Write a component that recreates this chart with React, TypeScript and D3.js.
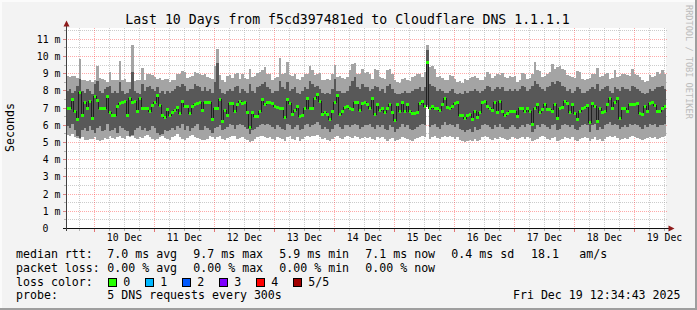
import React from "react";
import * as d3 from "d3";

// ---------- data (hourly steps, milliseconds) ----------
const START = Date.UTC(2025, 11, 9, 12, 34, 43);
const HOUR = 3600e3;

const medianMs: number[] = [
  6.96, 6.96, 7.50, 6.81, 6.34, 7.89, 6.57, 7.33, 6.96, 7.39,
  6.40, 7.68, 7.45, 6.96, 6.96, 6.96, 7.70, 6.77, 6.59, 6.59,
  7.10, 7.29, 7.35, 7.39, 6.59, 7.56, 7.35, 7.39, 6.81, 7.54,
  6.96, 6.96, 6.96, 6.81, 7.14, 7.33, 7.74, 7.16, 6.59, 6.48,
  6.92, 6.57, 6.77, 6.88, 7.06, 6.71, 7.39, 7.10, 7.10, 6.71,
  7.10, 7.19, 7.29, 7.35, 6.86, 7.31, 7.31, 7.31, 6.34, 6.96,
  6.96, 7.52, 6.24, 6.86, 6.57, 7.25, 7.25, 6.82, 7.19, 7.41,
  7.25, 7.35, 6.77, 5.89, 6.77, 6.51, 6.51, 6.80, 7.52, 7.19,
  7.35, 7.35, 7.25, 7.10, 7.02, 6.96, 6.96, 6.43, 7.50, 7.29,
  6.63, 6.86, 7.10, 6.51, 6.57, 6.96, 7.58, 6.96, 6.96, 7.54,
  7.77, 7.39, 6.63, 6.77, 6.63, 6.34, 6.82, 7.35, 7.74, 6.63,
  6.80, 7.02, 7.10, 7.00, 6.92, 7.35, 7.35, 6.86, 7.29, 7.33,
  7.19, 6.96, 7.54, 6.63, 7.19, 6.86, 6.96, 6.77, 6.96, 7.19,
  6.77, 6.28, 7.19, 6.82, 7.35, 6.82, 7.19, 6.80, 6.71, 6.67,
  6.77, 7.25, 7.39, 7.10, 9.64, 6.96, 7.10, 6.96, 6.96, 6.86,
  7.19, 7.54, 7.06, 6.96, 7.10, 7.25, 7.35, 6.57, 6.57, 6.42,
  6.57, 6.63, 6.34, 6.82, 6.43, 6.77, 7.35, 7.39, 7.10, 6.96,
  6.86, 7.31, 6.77, 7.39, 6.82, 6.57, 6.67, 6.82, 6.80, 6.80,
  6.51, 6.96, 6.96, 6.80, 6.96, 6.80, 6.05, 6.96, 7.19, 6.77,
  6.92, 7.19, 6.92, 6.92, 6.80, 7.19, 6.42, 6.96, 7.06, 7.39,
  7.25, 6.77, 7.19, 6.71, 6.34, 6.80, 6.96, 7.06, 7.16, 6.18,
  7.25, 7.10, 6.24, 6.96, 6.77, 6.80, 7.19, 7.54, 6.96, 7.35,
  7.54, 6.42, 6.96, 6.96, 6.80, 7.19, 7.19, 7.19, 7.25, 6.71,
  6.61, 7.12, 6.80, 7.25, 7.35, 7.16, 6.80, 6.80, 6.96, 7.10,
];

const maxMs: number[] = [
  8.84, 8.80, 8.88, 8.84, 8.77, 9.87, 8.65, 8.61, 8.57, 8.61,
  8.53, 8.65, 9.43, 8.77, 8.69, 8.61, 8.53, 9.10, 8.65, 8.61,
  8.65, 9.74, 8.65, 8.69, 8.51, 8.51, 10.65, 8.57, 8.61, 8.65,
  9.35, 8.65, 9.00, 9.00, 8.92, 8.80, 8.71, 8.77, 8.65, 8.71,
  8.71, 8.51, 8.65, 8.61, 9.00, 8.96, 9.16, 9.08, 8.77, 8.80,
  8.84, 9.10, 9.04, 9.00, 8.92, 9.00, 8.80, 8.77, 8.71, 9.43,
  10.45, 8.90, 8.61, 8.51, 8.84, 8.90, 8.77, 9.00, 9.04, 8.71,
  9.00, 8.77, 8.71, 9.29, 8.80, 8.84, 9.04, 9.10, 9.19, 9.39,
  9.00, 8.96, 8.65, 8.77, 8.80, 9.89, 9.00, 9.04, 9.68, 8.90,
  8.84, 9.00, 8.71, 8.65, 8.80, 9.00, 8.96, 9.43, 9.19, 8.90,
  9.00, 9.04, 8.65, 8.61, 8.71, 8.65, 9.00, 9.50, 8.80, 8.84,
  8.77, 8.71, 8.80, 9.19, 9.55, 9.60, 9.00, 8.96, 9.29, 9.04,
  9.10, 9.00, 8.71, 9.29, 9.23, 8.80, 8.77, 8.71, 9.19, 9.29,
  9.00, 8.61, 8.51, 8.45, 8.71, 8.77, 8.61, 8.57, 8.80, 8.84,
  9.00, 8.96, 8.80, 9.10, 10.65, 9.39, 9.43, 9.29, 8.80, 8.84,
  8.77, 8.61, 8.65, 8.90, 8.84, 8.71, 8.51, 8.57, 8.45, 8.71,
  8.65, 8.77, 8.80, 8.84, 8.77, 8.61, 8.65, 8.80, 9.10, 9.00,
  8.77, 8.84, 9.00, 8.92, 9.04, 8.80, 8.77, 8.84, 8.80, 8.88,
  8.51, 8.61, 9.04, 9.00, 8.71, 8.77, 9.00, 9.68, 9.19, 9.16,
  8.80, 8.84, 9.00, 9.08, 9.58, 9.29, 9.39, 9.43, 9.29, 9.23,
  8.90, 8.84, 8.80, 8.77, 9.16, 9.10, 8.71, 8.65, 8.71, 8.77,
  9.00, 8.96, 9.35, 8.80, 8.84, 9.00, 9.04, 8.71, 8.77, 9.19,
  8.80, 8.84, 9.00, 8.96, 8.90, 8.84, 9.29, 9.00, 8.90, 8.80,
  8.65, 8.51, 8.57, 8.90, 8.80, 8.84, 9.10, 9.00, 9.19, 9.00,
];

const upperMs: number[] = [
  8.0, 8.1, 7.9, 8.0, 8.3, 8.7, 8.0, 7.9, 8.1, 8.0,
  7.8, 8.4, 8.6, 8.0, 7.9, 8.1, 8.2, 8.3, 7.9, 8.0,
  7.9, 8.5, 8.0, 7.8, 7.9, 8.1, 9.1, 8.0, 7.9, 7.8,
  8.4, 8.0, 8.2, 8.3, 8.1, 8.0, 8.2, 7.9, 8.0, 7.8,
  8.0, 7.9, 8.0, 8.1, 8.3, 8.2, 8.4, 8.3, 8.0, 8.1,
  8.1, 8.4, 8.3, 8.2, 8.0, 8.2, 8.0, 8.1, 7.9, 8.5,
  9.6, 8.1, 7.9, 7.8, 8.0, 8.1, 8.0, 8.2, 8.3, 7.9,
  8.1, 8.0, 7.9, 8.4, 8.0, 7.9, 8.2, 8.3, 8.4, 8.5,
  8.2, 8.1, 7.9, 8.0, 8.0, 8.6, 8.2, 8.1, 8.5, 8.0,
  8.1, 8.2, 7.9, 7.8, 8.0, 8.2, 8.1, 8.6, 8.4, 8.2,
  8.3, 8.1, 7.9, 7.8, 7.9, 7.8, 8.1, 8.7, 8.0, 8.0,
  7.9, 7.9, 8.0, 8.3, 8.6, 8.8, 8.2, 8.1, 8.4, 8.2,
  8.2, 8.0, 8.1, 8.3, 8.2, 8.0, 8.1, 7.9, 8.3, 8.4,
  8.1, 7.9, 7.8, 7.8, 7.9, 8.0, 7.9, 7.9, 8.0, 8.1,
  8.1, 8.2, 8.0, 8.2, 10.35, 8.4, 8.3, 8.2, 8.0, 8.1,
  8.0, 7.9, 7.9, 8.0, 8.1, 7.9, 7.8, 7.9, 7.8, 8.0,
  7.9, 8.0, 8.0, 8.1, 8.0, 7.9, 8.0, 8.1, 8.3, 8.2,
  8.0, 8.1, 8.2, 8.1, 8.2, 8.0, 8.0, 8.1, 8.0, 8.1,
  8.0, 8.1, 8.3, 8.2, 8.0, 8.1, 8.3, 8.6, 8.4, 8.2,
  8.1, 8.0, 8.2, 8.3, 8.5, 8.4, 8.6, 8.5, 8.3, 8.2,
  8.0, 8.1, 7.9, 8.0, 8.2, 8.1, 7.9, 7.9, 8.0, 8.1,
  8.2, 8.1, 8.4, 8.0, 8.1, 8.2, 8.3, 8.0, 7.9, 8.2,
  8.1, 8.0, 8.2, 8.1, 8.1, 8.0, 8.3, 8.2, 8.1, 8.0,
  7.9, 7.8, 7.9, 8.1, 8.0, 8.1, 8.2, 8.2, 8.3, 8.1,
];

const lowerMs: number[] = [
  5.95, 5.85, 6.05, 5.75, 5.35, 5.25, 5.75, 5.85, 5.65, 5.95,
  5.75, 5.55, 5.85, 5.95, 5.65, 5.75, 6.05, 5.65, 5.75, 5.85,
  5.55, 5.95, 5.85, 5.75, 5.65, 5.35, 5.45, 5.75, 5.85, 5.95,
  5.75, 5.85, 5.65, 5.75, 5.95, 5.85, 5.55, 5.45, 5.50, 5.75,
  5.65, 5.75, 5.85, 5.75, 5.95, 5.85, 6.05, 5.75, 5.95, 5.65,
  5.85, 5.95, 6.05, 5.75, 5.75, 5.95, 5.85, 5.75, 5.55, 5.85,
  5.9, 6.0, 5.7, 5.8, 5.9, 6.1, 6.0, 5.8, 6.0, 6.1,
  6.0, 5.9, 5.8, 5.5, 5.7, 5.8, 5.9, 6.0, 6.1, 6.0,
  6.1, 6.0, 5.9, 5.8, 6.0, 5.9, 5.8, 5.7, 6.1, 6.0,
  5.8, 5.9, 6.0, 5.7, 5.8, 6.0, 6.1, 5.9, 6.0, 6.1,
  6.2, 6.0, 5.8, 5.9, 5.8, 5.6, 5.8, 6.0, 6.1, 5.9,
  5.8, 6.0, 6.0, 5.9, 6.0, 6.1, 6.0, 5.8, 5.9, 6.0,
  6.0, 6.1, 5.9, 5.8, 6.0, 5.9, 6.0, 5.8, 5.7, 6.0,
  5.9, 5.6, 5.8, 5.9, 6.1, 5.9, 6.0, 5.8, 5.7, 5.8,
  5.9, 6.0, 6.1, 6.0, 7.2, 5.9, 6.0, 6.1, 5.9, 5.8,
  6.0, 6.2, 6.0, 6.1, 6.0, 5.9, 6.1, 5.8, 5.7, 5.6,
  5.7, 5.8, 5.6, 5.9, 5.7, 5.8, 6.0, 6.1, 6.0, 5.9,
  5.8, 6.0, 5.9, 6.1, 5.9, 5.8, 5.8, 5.9, 6.0, 5.9,
  5.8, 5.9, 6.0, 5.9, 6.1, 6.0, 5.6, 5.8, 6.0, 5.9,
  6.1, 6.0, 5.9, 5.8, 6.0, 6.1, 5.7, 5.8, 6.0, 6.1,
  6.0, 5.9, 6.0, 5.8, 5.7, 5.9, 6.0, 6.1, 6.0, 5.6,
  6.0, 6.1, 5.7, 5.9, 5.8, 6.0, 6.1, 6.2, 6.0, 6.1,
  6.0, 5.8, 5.9, 6.0, 5.9, 6.1, 6.0, 6.1, 6.0, 5.9,
  5.8, 6.0, 5.9, 6.1, 6.0, 6.1, 5.9, 6.0, 6.0, 6.1,
];

const minMs: number[] = [
  5.41, 5.35, 5.47, 5.31, 5.27, 5.21, 5.31, 5.15, 5.12, 5.19,
  5.23, 5.31, 5.12, 5.08, 5.15, 5.27, 5.21, 5.35, 5.27, 5.19,
  5.31, 5.39, 5.27, 5.19, 5.35, 5.31, 5.39, 5.27, 5.19, 5.31,
  5.27, 5.35, 5.43, 5.31, 5.23, 5.12, 5.19, 5.31, 5.39, 5.27,
  5.19, 5.15, 5.31, 5.35, 5.47, 5.31, 5.21, 5.15, 5.27, 5.35,
  5.41, 5.31, 5.27, 5.19, 5.15, 5.12, 5.23, 5.35, 5.31, 5.19,
  5.30, 5.35, 5.20, 5.15, 5.25, 5.30, 5.40, 5.35, 5.20, 5.25,
  5.30, 5.20, 5.15, 5.05, 5.10, 5.20, 5.30, 5.35, 5.40, 5.30,
  5.25, 5.30, 5.20, 5.15, 5.30, 5.25, 5.20, 5.10, 5.30, 5.35,
  5.20, 5.15, 5.30, 5.10, 5.20, 5.30, 5.40, 5.30, 5.35, 5.40,
  5.45, 5.30, 5.20, 5.25, 5.15, 5.10, 5.20, 5.30, 5.35, 5.25,
  5.20, 5.30, 5.35, 5.30, 5.25, 5.40, 5.30, 5.20, 5.25, 5.30,
  5.25, 5.30, 5.20, 5.15, 5.30, 5.25, 5.30, 5.20, 5.10, 5.20,
  5.25, 5.10, 5.15, 5.20, 5.30, 5.25, 5.20, 5.15, 5.10, 5.20,
  5.25, 5.30, 5.35, 5.30, 7.05, 5.20, 5.30, 5.35, 5.25, 5.20,
  5.30, 5.40, 5.30, 5.35, 5.30, 5.20, 5.30, 5.15, 5.10, 5.05,
  5.10, 5.15, 5.10, 5.20, 5.10, 5.15, 5.30, 5.35, 5.30, 5.20,
  5.15, 5.25, 5.20, 5.30, 5.25, 5.20, 5.15, 5.20, 5.30, 5.25,
  5.20, 5.25, 5.30, 5.20, 5.30, 5.25, 5.10, 5.15, 5.20, 5.30,
  5.35, 5.30, 5.20, 5.15, 5.25, 5.30, 5.10, 5.15, 5.20, 5.30,
  5.25, 5.20, 5.30, 5.15, 5.10, 5.20, 5.25, 5.30, 5.25, 5.10,
  5.20, 5.30, 5.15, 5.20, 5.10, 5.20, 5.30, 5.35, 5.30, 5.35,
  5.25, 5.15, 5.20, 5.25, 5.20, 5.30, 5.35, 5.30, 5.25, 5.20,
  5.15, 5.20, 5.25, 5.30, 5.25, 5.30, 5.20, 5.25, 5.30, 5.35,
];

const yTickValues = [0, 1, 2, 3, 4, 5, 6, 7, 8, 9, 10, 11];
const yTickLabels = ["0", "1 m", "2 m", "3 m", "4 m", "5 m", "6 m", "7 m", "8 m", "9 m", "10 m", "11 m"];
const dayLabels = ["10 Dec", "11 Dec", "12 Dec", "13 Dec", "14 Dec", "15 Dec", "16 Dec", "17 Dec", "18 Dec", "19 Dec"];

const rttStats = ["7.0 ms avg", "9.7 ms max", "5.9 ms min", "7.1 ms now", "0.4 ms sd"];
const amStat = ["18.1", "am/s"];
const lossStats = ["0.00 % avg", "0.00 % max", "0.00 % min", "0.00 % now"];
const lossLabels = ["0", "1", "2", "3", "4", "5/5"];
const lossColors = ["#26ff00", "#00b8ff", "#0059ff", "#7e00ff", "#ff0000", "#a10000"];

const TITLE = "Last 10 Days from f5cd397481ed to Cloudflare DNS 1.1.1.1";
const STAMP = "Fri Dec 19 12:34:43 2025";
const PROBE = "5 DNS requests every 300s";

// ---------- chart ----------
const W = 697;
const H = 310;
const MONO = "'DejaVu Sans Mono', 'Liberation Mono', monospace";

type Pt = { t: Date; med: number; hi: number; lo: number; p2: number; p4: number };

export default function App() {
  const n = medianMs.length;
  const END = START + n * HOUR;
  const xs = d3.scaleUtc().domain([new Date(START), new Date(END)]).range([66, 666]);
  const ys = d3.scaleLinear().domain([0, 11.628]).range([228.5, 28.5]);
  const snap = (v: number) => Math.round(v - 0.5) + 0.5;

  const pts: Pt[] = medianMs.map((m, i) => ({
    t: new Date(START + i * HOUR),
    med: m,
    hi: maxMs[i],
    lo: minMs[i],
    p2: lowerMs[i],
    p4: upperMs[i],
  }));
  const ptsEnd: Pt[] = [...pts, { ...pts[n - 1], t: new Date(END) }];

  const light = d3.area<Pt>().x((d) => xs(d.t)).y0((d) => ys(d.lo)).y1((d) => ys(d.hi)).curve(d3.curveStepAfter);
  const dark = d3.area<Pt>().x((d) => xs(d.t)).y0((d) => ys(d.p2)).y1((d) => ys(d.p4)).curve(d3.curveStepAfter);
  const medLine = d3.line<Pt>().x((d) => xs(d.t)).y((d) => ys(d.med)).curve(d3.curveStepAfter);

  // grid
  const hMinor: number[] = [];
  const hMajor: number[] = [];
  for (let k = 1; k <= 23; k++) {
    const v = k * 0.5;
    if (k % 2 === 0) hMajor.push(v);
    else hMinor.push(v);
  }
  const sixH = d3.utcHour.every(6)!.range(new Date(START), new Date(END));
  const vMajor = sixH.filter((t) => t.getUTCHours() === 0);
  const vMinor = sixH.filter((t) => t.getUTCHours() !== 0);

  const minorCol = "rgba(170,170,170,0.6)";
  const majorCol = "rgba(255,40,40,0.4)";

  const legendX = [107.3, 193.3, 279.3, 365.3, 451.3];

  return (
    <svg width={W} height={H} viewBox={`0 0 ${W} ${H}`} style={{ display: "block", position: "absolute", left: 0, top: 0 }}>
      <rect x={0} y={0} width={W} height={H} fill="#f3f3f3" />
      {/* frame */}
      <rect x={0} y={0} width={W} height={2} fill="#fbfbfb" />
      <rect x={0} y={0} width={2} height={H} fill="#fbfbfb" />
      <rect x={0} y={H - 2} width={W} height={2} fill="#9e9e9e" />
      <rect x={W - 2} y={0} width={2} height={H} fill="#9e9e9e" />

      {/* canvas */}
      <rect x={66} y={28} width={600} height={200.5} fill="#ffffff" />

      {/* grid (beneath data) */}
      <g strokeWidth={1} strokeDasharray="1 1" fill="none">
        {hMinor.map((v) => (
          <line key={"hm" + v} x1={66} x2={668} y1={snap(ys(v))} y2={snap(ys(v))} stroke={minorCol} />
        ))}
        {vMinor.map((t) => (
          <line key={"vm" + t.getTime()} x1={snap(xs(t))} x2={snap(xs(t))} y1={28} y2={228} stroke={minorCol} />
        ))}
        {hMajor.map((v) => (
          <line key={"hM" + v} x1={66} x2={668} y1={snap(ys(v))} y2={snap(ys(v))} stroke={majorCol} />
        ))}
        {vMajor.map((t) => (
          <line key={"vM" + t.getTime()} x1={snap(xs(t))} x2={snap(xs(t))} y1={28} y2={228} stroke={majorCol} />
        ))}
      </g>

      {/* smoke */}
      <g shapeRendering="crispEdges">
        <path d={light(ptsEnd) || ""} fill="#a4a4a4" />
        <path d={dark(ptsEnd) || ""} fill="#585858" />
      </g>
      <path d={medLine(ptsEnd) || ""} fill="none" stroke="#202020" strokeWidth={1} shapeRendering="crispEdges" />
      <g shapeRendering="crispEdges">
        {pts.map((d, i) => (
          <rect
            key={i}
            x={xs(d.t)}
            width={xs(new Date(d.t.getTime() + HOUR)) - xs(d.t)}
            y={ys(d.med) - 1.5}
            height={3}
            fill={lossColors[0]}
          />
        ))}
      </g>

      {/* ticks */}
      <g strokeWidth={1} shapeRendering="crispEdges">
        {hMinor.map((v) => (
          <line key={"thm" + v} x1={64} x2={66} y1={snap(ys(v))} y2={snap(ys(v))} stroke="rgba(150,150,150,0.7)" />
        ))}
        {hMajor.map((v) => (
          <line key={"thM" + v} x1={63} x2={66} y1={snap(ys(v))} y2={snap(ys(v))} stroke="rgba(200,60,60,0.6)" />
        ))}
        {vMinor.map((t) => (
          <line key={"tvm" + t.getTime()} x1={snap(xs(t))} x2={snap(xs(t))} y1={229} y2={231} stroke="rgba(150,150,150,0.7)" />
        ))}
        {vMajor.map((t) => (
          <line key={"tvM" + t.getTime()} x1={snap(xs(t))} x2={snap(xs(t))} y1={229} y2={232} stroke="rgba(220,60,60,0.7)" />
        ))}
      </g>

      {/* axes */}
      <g shapeRendering="crispEdges">
        <line x1={63} x2={669} y1={228.5} y2={228.5} stroke="#101010" />
        <line x1={66.5} x2={66.5} y1={231} y2={25} stroke="#404040" />
      </g>
      <path d="M63.5,26.5 L69.5,26.5 L66.5,20.5 Z" fill="#8e1b1b" />
      <path d="M668.5,225.5 L668.5,231.5 L674.5,228.5 Z" fill="#8e1b1b" />

      {/* axis labels */}
      <g fontFamily={MONO} fontSize={9.8} fill="#000">
        {yTickValues.map((v, i) => (
          <text key={"yl" + v} x={v === 0 ? 48.4 : 60.4} y={snap(ys(v)) + 3.3} textAnchor="end">
            {yTickLabels[i]}
          </text>
        ))}
        {dayLabels.map((lab, i) => (
          <text key={"xl" + lab} x={xs(new Date(Date.UTC(2025, 11, 10 + i, 12)))} y={241} textAnchor="middle">
            {lab}
          </text>
        ))}
      </g>

      {/* title */}
      <text x={347.5} y={23.5} textAnchor="middle" fontFamily={MONO} fontSize={13.2} fill="#000">
        {TITLE}
      </text>
      {/* vertical unit */}
      <text transform="translate(14.3,127.5) rotate(-90)" textAnchor="middle" fontFamily={MONO} fontSize={11.6} fill="#000">
        Seconds
      </text>
      {/* rrdtool tag */}
      <text transform="translate(685.5,5) rotate(90)" fontFamily={MONO} fontSize={8.6} fill="#bcbcbc">
        RRDTOOL / TOBI OETIKER
      </text>

      {/* legend */}
      <g fontFamily={MONO} fontSize={11.6} fill="#000">
        <text x={16} y={258.3}>median rtt:</text>
        {rttStats.map((s, i) => (
          <text key={"r" + i} x={legendX[i]} y={258.3} style={{ whiteSpace: "pre" }}>
            {s}
          </text>
        ))}
        <text x={531} y={258.3}>{amStat[0]}</text>
        <text x={579.3} y={258.3}>{amStat[1]}</text>

        <text x={16} y={271.8}>packet loss:</text>
        {lossStats.map((s, i) => (
          <text key={"l" + i} x={legendX[i]} y={271.8} style={{ whiteSpace: "pre" }}>
            {s}
          </text>
        ))}

        <text x={16} y={285.6}>loss color:</text>
        {lossLabels.map((lab, i) => (
          <g key={"lc" + i}>
            <rect x={108.5 + i * 37} y={278.5} width={8} height={8} fill={lossColors[i]} stroke="#000" strokeWidth={1} shapeRendering="crispEdges" />
            <text x={123.3 + i * 37} y={285.6}>{lab}</text>
          </g>
        ))}

        <text x={16} y={299.2}>probe:</text>
        <text x={107.3} y={299.2}>{PROBE}</text>
        <text x={680.5} y={299.2} textAnchor="end">{STAMP}</text>
      </g>
    </svg>
  );
}
